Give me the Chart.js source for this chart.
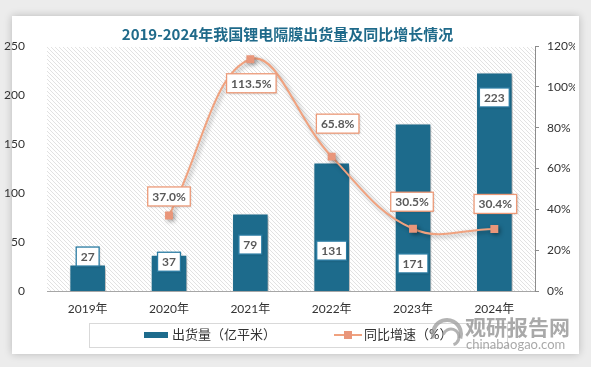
<!DOCTYPE html>
<html>
<head>
<meta charset="utf-8">
<script src="https://cdn.jsdelivr.net/npm/chart.js@4.4.0/dist/chart.umd.min.js"></script>
<style>
  body { margin: 0; background: #ececec; }
  #card { position: absolute; left: 12px; top: 16px; width: 567px; height: 338px; background: #fff; box-shadow: 0 0 8px rgba(0,0,0,0.22); }
  #wrap { position: absolute; left: 0; top: 0; width: 591px; height: 367px; }
</style>
</head>
<body>
<div id="card"></div>
<div id="wrap"><canvas id="chart"></canvas></div>
<script>
// 数据
const years = ['2019年', '2020年', '2021年', '2022年', '2023年', '2024年'];
const shipments = [27, 37, 79, 131, 171, 223];          // 出货量（亿平米）
const growthRate = [null, 37.0, 113.5, 65.8, 30.5, 30.4]; // 同比增速（%）

const BAR_COLOR = '#1d6b8c';
const LINE_COLOR = '#f0a27f';
const POINT_COLOR = '#e9967a';
const FONT = 'Lato, "Noto Sans CJK SC", sans-serif';

// 斜线底纹
function hatchPattern(ctx) {
    const c = document.createElement('canvas');
    c.width = 4; c.height = 4;
    const g = c.getContext('2d');
    g.strokeStyle = '#e2e2e2';
    g.lineWidth = 1;
    g.beginPath();
    g.moveTo(-1, -1); g.lineTo(5, 5);
    g.stroke();
    return ctx.createPattern(c, 'repeat');
}

const hatchPlugin = {
    id: 'hatch',
    beforeDraw(chart) {
        const { ctx, chartArea: a } = chart;
        ctx.save();
        ctx.fillStyle = hatchPattern(ctx);
        ctx.fillRect(a.left, a.top + 1, a.right - a.left, a.bottom - a.top - 1);
        ctx.restore();
    }
};

// 阴影
const shadowPlugin = {
    id: 'shadow',
    beforeDatasetDraw(chart) {
        const ctx = chart.ctx;
        ctx.save();
        ctx.shadowColor = 'rgba(0,0,0,0.35)';
        ctx.shadowBlur = 4;
        ctx.shadowOffsetX = 2;
        ctx.shadowOffsetY = 2;
    },
    afterDatasetDraw(chart) {
        chart.ctx.restore();
    }
};

function labelBox(ctx, text, cx, cy, border) {
    ctx.font = 'bold 12px ' + FONT;
    const w = ctx.measureText(text).width + 9;
    const h = 19;
    ctx.save();
    ctx.shadowColor = 'rgba(0,0,0,0.2)';
    ctx.shadowBlur = 2;
    ctx.shadowOffsetX = 1;
    ctx.shadowOffsetY = 1;
    ctx.fillStyle = '#fff';
    ctx.fillRect(cx - w / 2, cy - h / 2, w, h);
    ctx.restore();
    ctx.strokeStyle = border;
    ctx.lineWidth = 1.3;
    ctx.strokeRect(cx - w / 2, cy - h / 2, w, h);
    ctx.fillStyle = '#595959';
    ctx.textAlign = 'center';
    ctx.textBaseline = 'middle';
    ctx.fillText(text, cx, cy + 0.5);
}

// 数据标签（偏移量为像素）
const barLabelOffset = [-8, 7, 31, 88, 140, 25];
const lineLabelOffset = [null, [0, -19], [1, 24], [6, -33], [-1, -27], [1, -25]];

const labelsPlugin = {
    id: 'valueLabels',
    afterDatasetsDraw(chart) {
        const ctx = chart.ctx;
        ctx.save();
        chart.getDatasetMeta(0).data.forEach((el, i) => {
            labelBox(ctx, String(shipments[i]), el.x, el.y + barLabelOffset[i], '#2a7ca3');
        });
        chart.getDatasetMeta(1).data.forEach((el, i) => {
            if (growthRate[i] === null) return;
            const o = lineLabelOffset[i];
            labelBox(ctx, growthRate[i].toFixed(1) + '%', el.x + o[0], el.y + o[1], '#ec9a78');
        });
        ctx.restore();
    }
};

// 图例与水印
const legendPlugin = {
    id: 'customLegend',
    afterDraw(chart) {
        const ctx = chart.ctx;
        ctx.save();
        ctx.strokeStyle = '#d9d9d9';
        ctx.lineWidth = 1;
        ctx.strokeRect(89.5, 323.5, 418, 24);

        ctx.fillStyle = BAR_COLOR;
        ctx.fillRect(144, 332, 24, 6);
        ctx.font = '13px ' + FONT;
        ctx.fillStyle = '#333';
        ctx.textBaseline = 'middle';
        ctx.textAlign = 'left';
        ctx.fillText('出货量（亿平米）', 172, 335);

        ctx.strokeStyle = LINE_COLOR;
        ctx.lineWidth = 2;
        ctx.beginPath();
        ctx.moveTo(334, 335); ctx.lineTo(362, 335);
        ctx.stroke();
        ctx.fillStyle = POINT_COLOR;
        ctx.fillRect(344, 331, 8, 8);
        ctx.fillStyle = '#333';
        ctx.fillText('同比增速（%）', 364, 335);

        // 水印
        ctx.globalAlpha = 0.75;
        ctx.strokeStyle = '#9a9a9a';
        ctx.lineWidth = 4;
        ctx.beginPath();
        ctx.arc(447, 334, 14, Math.PI * 0.9, Math.PI * 2.1);
        ctx.stroke();
        ctx.lineWidth = 3;
        ctx.beginPath();
        ctx.arc(451, 337, 8, Math.PI * 1.1, Math.PI * 2.4);
        ctx.stroke();
        ctx.fillStyle = '#8c8c8c';
        ctx.font = 'bold 21px "Noto Sans CJK SC", sans-serif';
        ctx.fillText('观研报告网', 465, 327);
        ctx.font = '13px ' + FONT;
        ctx.fillText('chinabaogao.com', 466, 345);
        ctx.restore();
    }
};

new Chart(document.getElementById('chart'), {
    data: {
        labels: years,
        datasets: [
            {
                type: 'bar',
                label: '出货量（亿平米）',
                data: shipments,
                backgroundColor: BAR_COLOR,
                borderColor: '#ffffff',
                borderWidth: 1,
                barPercentage: 0.45,
                categoryPercentage: 1,
                yAxisID: 'y',
                order: 2
            },
            {
                type: 'line',
                label: '同比增速（%）',
                data: growthRate,
                borderColor: LINE_COLOR,
                borderWidth: 2,
                tension: 0.4,
                pointStyle: 'rect',
                pointRadius: 5.6,
                pointBackgroundColor: POINT_COLOR,
                pointBorderWidth: 0,
                yAxisID: 'y1',
                order: 1
            }
        ]
    },
    options: {
        responsive: true,
        maintainAspectRatio: false,
        animation: false,
        layout: { padding: { top: 0, left: 0, right: 16, bottom: 46 } },
        plugins: {
            legend: { display: false },
            tooltip: { enabled: false },
            title: {
                display: true,
                text: '2019-2024年我国锂电隔膜出货量及同比增长情况',
                color: '#1f6a8a',
                font: { family: '"Noto Sans CJK SC", sans-serif', size: 15, weight: 'bold' },
                padding: { top: 25, bottom: 3 }
            }
        },
        scales: {
            x: {
                grid: { display: false, drawTicks: false },
                border: { display: true, color: '#a6a6a6' },
                ticks: { color: '#333', padding: 11, font: { family: FONT, size: 12 } },
                afterFit: s => { s.height = 30; }
            },
            y: {
                position: 'left',
                min: 0, max: 250,
                ticks: { stepSize: 50, color: '#333', padding: 14, font: { family: FONT, size: 12 } },
                grid: { display: false },
                border: { display: false },
                afterFit: s => { s.width = 47; }
            },
            y1: {
                position: 'right',
                min: 0, max: 120,
                ticks: { stepSize: 20, color: '#333', padding: 8, font: { family: FONT, size: 12 },
                         callback: v => v + '%' },
                grid: { drawOnChartArea: false, drawTicks: true, tickLength: 4, color: '#8c8c8c' },
                border: { display: true, color: '#8c8c8c' },
                afterFit: s => { s.width = 40; }
            }
        }
    },
    plugins: [hatchPlugin, shadowPlugin, labelsPlugin, legendPlugin]
});
</script>
</body>
</html>
